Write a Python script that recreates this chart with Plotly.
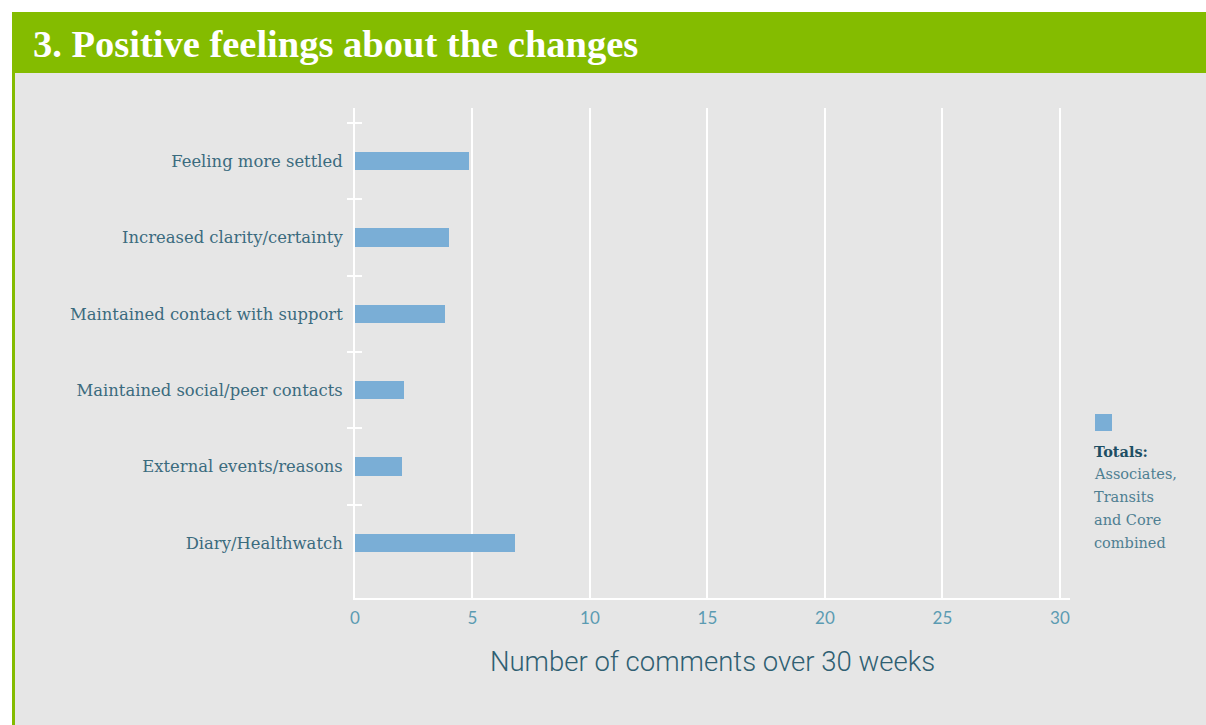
import plotly.graph_objects as go

categories = ["Feeling more settled", "Increased clarity/certainty", "Maintained contact with support",
              "Maintained social/peer contacts", "External events/reasons", "Diary/Healthwatch"]
values = [4.85, 4.0, 3.85, 2.1, 1.98, 6.8]
x_ticks = [0, 5, 10, 15, 20, 25, 30]
legend_lines = ["<b>Totals:</b>", "Associates,", "Transits", "and Core", "combined"]
positions = list(range(len(categories)))
boundaries = [p - 0.5 for p in positions]

W, H = 1206, 725
GREEN = "#84bc00"
GRAY = "#e6e6e6"
BAR = "#7aaed6"
LABEL = "#3b6b7e"
TICK = "#5b9bb2"

ml, mr, mt, mb = 355, W - 1070, 108, H - 598
PW, PH = W - ml - mr, H - mt - mb

def px(x):
    return (x - ml) / PW

def py(y):
    return (H - mb - y) / PH

fig = go.Figure()
fig.add_trace(go.Bar(
    x=values, y=positions, orientation="h", width=0.24,
    marker=dict(color=BAR, line=dict(width=0)), showlegend=False,
    name="Totals",
))
fig.add_trace(go.Scatter(x=[None], y=[None], yaxis="y2", showlegend=False, hoverinfo="skip"))
fig.add_trace(go.Scatter(x=[None], y=[None], yaxis="y3", showlegend=False, hoverinfo="skip"))

yr = [5.72, -0.694]
fig.update_layout(
    width=W, height=H,
    margin=dict(l=ml, r=mr, t=mt, b=mb, pad=0),
    paper_bgcolor=GRAY,
    plot_bgcolor=GRAY,
    bargap=0,
    xaxis=dict(
        range=[0, 30.43], tickvals=x_ticks, ticktext=[str(v) for v in x_ticks],
        showgrid=True, gridcolor="white", gridwidth=2, zeroline=False,
        showline=True, linecolor="white", linewidth=2,
        ticks="", tickfont=dict(family="Lato", size=17, color=TICK),
        ticklabelstandoff=4,
        title=dict(text="Number of comments over 30 weeks",
                   font=dict(family="Roboto", size=27.5, color="#2f5f72", weight=300),
                   standoff=24),
    ),
    yaxis=dict(
        range=yr, tickvals=positions, ticktext=categories,
        showgrid=False, zeroline=False, showline=True, linecolor="white", linewidth=2,
        ticks="", tickfont=dict(family="DejaVu Serif", size=16.4, color=LABEL),
        ticklabelstandoff=7,
    ),
    yaxis2=dict(
        overlaying="y", side="left", range=yr, tickvals=boundaries,
        showticklabels=False, showgrid=False, zeroline=False, showline=False,
        ticks="outside", ticklen=7, tickwidth=2, tickcolor="white",
    ),
    yaxis3=dict(
        overlaying="y", side="left", range=yr, tickvals=boundaries,
        showticklabels=False, showgrid=False, zeroline=False, showline=False,
        ticks="inside", ticklen=7, tickwidth=2, tickcolor="white",
    ),
)

shapes = [
    dict(type="rect", xref="paper", yref="paper", x0=px(0), x1=px(W), y0=py(12), y1=py(0),
         fillcolor="white", line=dict(width=0), layer="below"),
    dict(type="rect", xref="paper", yref="paper", x0=px(0), x1=px(12), y0=py(H), y1=py(0),
         fillcolor="white", line=dict(width=0), layer="below"),
    dict(type="rect", xref="paper", yref="paper", x0=px(12), x1=px(15), y0=py(H), y1=py(73),
         fillcolor=GREEN, line=dict(width=0), layer="below"),
    dict(type="rect", xref="paper", yref="paper", x0=px(12), x1=px(W), y0=py(73), y1=py(12),
         fillcolor=GREEN, line=dict(width=0), layer="below"),
    dict(type="rect", xref="paper", yref="paper", x0=px(1095), x1=px(1112), y0=py(431), y1=py(414),
         fillcolor=BAR, line=dict(width=0)),
]
fig.update_layout(shapes=shapes)

fig.add_annotation(
    xref="paper", yref="paper", x=px(31), y=py(44), xanchor="left", yanchor="middle",
    text="<b>3. Positive feelings about the changes</b>", showarrow=False,
    font=dict(family="Liberation Serif", size=38.5, color="white"),
)
for i, line in enumerate(legend_lines):
    fig.add_annotation(
        xref="paper", yref="paper", x=px(1092), y=py(451 + 23 * i), xanchor="left", yanchor="middle",
        align="left", showarrow=False, text=line,
        font=dict(family="DejaVu Serif", size=14.5, color="#1d4e63" if i == 0 else "#4f7f92"),
    )

fig.write_html("out.html")
